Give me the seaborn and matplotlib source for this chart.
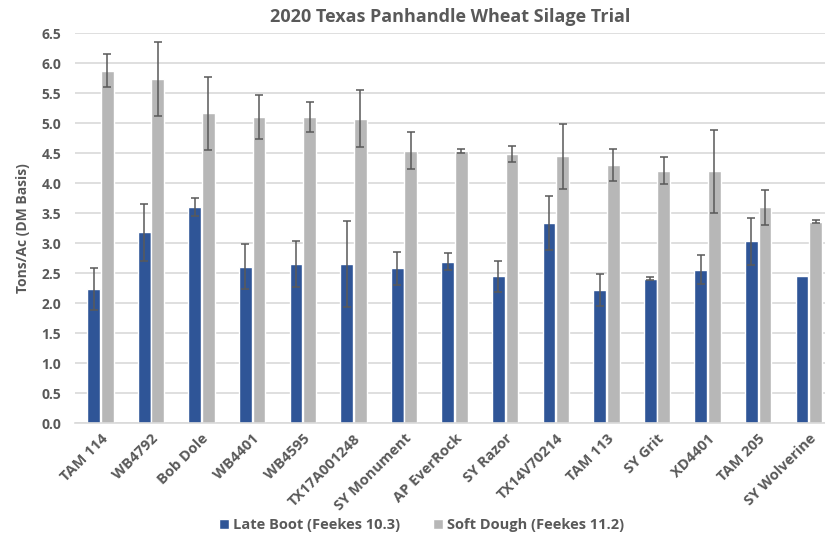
import matplotlib.pyplot as plt
import numpy as np
import pandas as pd
import seaborn as sns

# varieties in chart order
varieties = ['TAM 114', 'WB4792', 'Bob Dole', 'WB4401', 'WB4595', 'TX17A001248',
             'SY Monument', 'AP EverRock', 'SY Razor', 'TX14V70214', 'TAM 113',
             'SY Grit', 'XD4401', 'TAM 205', 'SY Wolverine']

stages = ['Late Boot (Feekes 10.3)', 'Soft Dough (Feekes 11.2)']

# yields, tons/ac DM basis
late_boot = [2.24, 3.18, 3.60, 2.61, 2.65, 2.65, 2.58, 2.69, 2.45, 3.34, 2.22, 2.41, 2.56, 3.03, 2.45]
soft_dough = [5.88, 5.74, 5.17, 5.11, 5.11, 5.08, 4.54, 4.54, 4.49, 4.45, 4.31, 4.21, 4.20, 3.60, 3.36]

# error bar half widths
late_boot_err = [0.35, 0.48, 0.15, 0.37, 0.38, 0.72, 0.27, 0.14, 0.26, 0.45, 0.26, 0.02, 0.24, 0.39, 0.0]
soft_dough_err = [0.28, 0.62, 0.61, 0.37, 0.25, 0.48, 0.31, 0.03, 0.14, 0.54, 0.27, 0.22, 0.69, 0.29, 0.02]

df = pd.DataFrame({
    'variety': varieties * 2,
    'stage': [stages[0]] * len(varieties) + [stages[1]] * len(varieties),
    'tons': late_boot + soft_dough,
})

sns.set_style('white')
plt.rcParams['font.family'] = ['Open Sans', 'DejaVu Sans']
txt = '#595959'

fig = plt.figure(figsize=(8.25, 5.39), dpi=100)
ax = fig.add_axes([0.091, 0.2147, 0.909, 0.7235])

sns.barplot(data=df, x='variety', y='tons', hue='stage', order=varieties,
            hue_order=stages, palette=['#2F5597', '#B7B7B7'], width=0.54,
            gap=0.06, errorbar=None, saturation=1, ax=ax, zorder=2)

# error bars on each bar
for cont, errs in zip(ax.containers, [late_boot_err, soft_dough_err]):
    xs = [p.get_x() + p.get_width() / 2 for p in cont.patches]
    ys = [p.get_height() for p in cont.patches]
    e = np.array(errs)
    keep = e > 0
    ax.errorbar(np.array(xs)[keep], np.array(ys)[keep], yerr=e[keep], fmt='none',
                ecolor='#595959', elinewidth=1.1, capsize=3, capthick=1.1, zorder=3)

ax.set_ylim(0, 6.5)
ax.set_xlim(-0.5, 14.32)
ax.set_yticks(np.arange(0, 6.51, 0.5))
ax.set_yticklabels([f'{v:.1f}' for v in np.arange(0, 6.51, 0.5)])
ax.yaxis.grid(True, color='#D9D9D9', linewidth=1.2, zorder=0)
ax.set_axisbelow(True)
for s in ['top', 'right', 'left']:
    ax.spines[s].set_visible(False)
ax.spines['bottom'].set_color('#D9D9D9')
ax.spines['bottom'].set_linewidth(1.2)

ax.tick_params(axis='both', length=0, colors=txt, labelsize=10)
plt.setp(ax.get_yticklabels(), fontweight='bold')
plt.setp(ax.get_xticklabels(), rotation=45, ha='right', rotation_mode='anchor',
         fontweight='bold', fontsize=10.5)
ax.tick_params(axis='x', pad=6)
ax.tick_params(axis='y', pad=10)

ax.set_xlabel('')
ax.set_ylabel('Tons/Ac (DM Basis)', color=txt, fontweight='bold', fontsize=10, labelpad=8)
ax.set_title('2020 Texas Panhandle Wheat Silage Trial', color=txt, fontweight='bold',
             fontsize=13, pad=8)

handles, labels = ax.get_legend_handles_labels()
ax.get_legend().remove()
fig.legend(handles, labels, loc='lower center', bbox_to_anchor=(0.511, -0.012), ncol=2,
           frameon=False, handlelength=0.7, handleheight=0.7, handletextpad=0.3,
           columnspacing=2.2, prop={'weight': 'bold', 'size': 10.5}, labelcolor=txt)

fig.savefig('out.png', dpi=100)
